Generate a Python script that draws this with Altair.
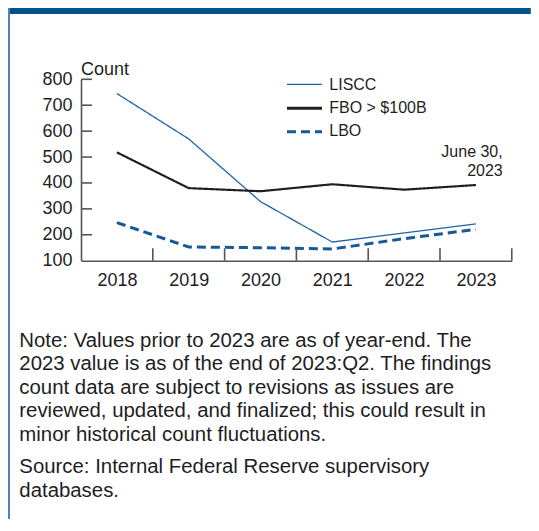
import altair as alt
import pandas as pd

years = [2018, 2019, 2020, 2021, 2022, 2023]
liscc = [745, 570, 328, 172, 207, 242]
fbo = [518, 380, 368, 395, 374, 392]
lbo = [247, 153, 150, 145, 185, 221]
series_names = ["LISCC", "FBO > $100B", "LBO"]
series_colors = ["#1f64a8", "#1e1e1e", "#15599a"]
series_widths = [1.3, 3, 3]
y_ticks = [100, 200, 300, 400, 500, 600, 700, 800]
x_ticks = [2018.5, 2019.5, 2020.5, 2021.5, 2022.5, 2023.5]
note_lines = [
    "Note: Values prior to 2023 are as of year-end. The",
    "2023 value is as of the end of 2023:Q2. The findings",
    "count data are subject to revisions as issues are",
    "reviewed, updated, and finalized; this could result in",
    "minor historical count fluctuations.",
]
source_lines = ["Source: Internal Federal Reserve supervisory", "databases."]
annotation_lines = ["June 30,", "2023"]

FONT = "Liberation Sans"
TXT = "#1e1e1e"
AX = "#555555"
W, H = 430.8, 181.4

rows = []
for name, vals in zip(series_names, [liscc, fbo, lbo]):
    for yr, v in zip(years, vals):
        rows.append({"year": yr, "value": v, "series": name})
df = pd.DataFrame(rows)

xscale = alt.Scale(domain=[2017.5, 2023.5], nice=False, zero=False)
yscale = alt.Scale(domain=[100, 800], nice=False, zero=False)
xaxis = alt.Axis(values=years, format="d", ticks=False, tickSize=0, grid=False,
                 labelFontSize=18, labelFont=FONT, labelColor=TXT, labelPadding=11,
                 domainColor=AX, domainWidth=1.6, title=None, labelFlush=False)
yaxis = alt.Axis(values=y_ticks, ticks=False, tickSize=0, grid=False,
                 labelFontSize=18, labelFont=FONT, labelColor=TXT, labelPadding=9,
                 domainColor=AX, domainWidth=1.6, title=None)

lines = alt.Chart(df).mark_line().encode(
    x=alt.X("year:Q", scale=xscale, axis=xaxis),
    y=alt.Y("value:Q", scale=yscale, axis=yaxis),
    color=alt.Color("series:N", scale=alt.Scale(domain=series_names, range=series_colors), legend=None),
    strokeWidth=alt.StrokeWidth("series:N", scale=alt.Scale(domain=series_names, range=series_widths), legend=None),
    strokeDash=alt.StrokeDash("series:N", scale=alt.Scale(domain=series_names, range=[[1, 0], [1, 0], [9, 5]]), legend=None),
)

ytick_layer = alt.Chart(pd.DataFrame({"v": y_ticks[1:]})).mark_rule(color=AX, strokeWidth=1.6).encode(
    y=alt.Y("v:Q", scale=yscale, axis=yaxis), x=alt.value(0), x2=alt.value(11))
xtick_layer = alt.Chart(pd.DataFrame({"v": x_ticks})).mark_rule(color=AX, strokeWidth=1.6).encode(
    x=alt.X("v:Q", scale=xscale, axis=xaxis), y=alt.value(H - 12.4), y2=alt.value(H))

# legend
leg_layers = []
leg_sym_y = [5, 29, 52.4]
leg_txt_y = [10.3, 33.6, 57]
for name, col, wd, sy, ty in zip(series_names, series_colors, series_widths, leg_sym_y, leg_txt_y):
    dash = [9, 5] if name == "LBO" else [1, 0]
    leg_layers.append(alt.Chart(pd.DataFrame({"s": [name]})).mark_rule(
        color=col, strokeWidth=wd, strokeDash=dash).encode(
        x=alt.value(206), x2=alt.value(241), y=alt.value(sy)))
    leg_layers.append(alt.Chart(pd.DataFrame({"s": [name]})).mark_text(
        align="left", baseline="alphabetic", font=FONT, fontSize=16, color=TXT).encode(
        text="s:N", x=alt.value(248.3), y=alt.value(ty)))

count_title = alt.Chart(pd.DataFrame({"t": ["Count"]})).mark_text(
    align="left", baseline="alphabetic", font=FONT, fontSize=18, color=TXT).encode(
    text="t:N", x=alt.value(0), y=alt.value(-4.5))

annot = alt.Chart(pd.DataFrame({"t": [0]})).mark_text(
    text=annotation_lines, align="right", baseline="alphabetic", font=FONT, fontSize=16,
    lineHeight=18.7, color=TXT).encode(x=alt.value(421.7), y=alt.value(78))

note = alt.Chart(pd.DataFrame({"t": [0]})).mark_text(
    text=note_lines, align="left", baseline="alphabetic", font=FONT, fontSize=20.4,
    lineHeight=23.4, color=TXT).encode(x=alt.value(-61.7), y=alt.value(267.7))
source = alt.Chart(pd.DataFrame({"t": [0]})).mark_text(
    text=source_lines, align="left", baseline="alphabetic", font=FONT, fontSize=20.4,
    lineHeight=23.4, color=TXT).encode(x=alt.value(-61.7), y=alt.value(394.2))

top_bar = alt.Chart(pd.DataFrame({"t": [0]})).mark_rect(color="#03538b").encode(
    x=alt.value(-73), x2=alt.value(W + 19), y=alt.value(-71.3), y2=alt.value(-65.3))
left_border = alt.Chart(pd.DataFrame({"t": [0]})).mark_rule(color="#5683b0", strokeWidth=2).encode(
    x=alt.value(-72), y=alt.value(-71.3), y2=alt.value(H + 260))

chart = alt.layer(
    top_bar, left_border, lines, ytick_layer, xtick_layer, count_title, annot, note, source, *leg_layers
).properties(
    width=W, height=H,
    autosize=alt.AutoSizeParams(type="none"),
    padding={"left": 73, "top": 71.3, "right": 19, "bottom": 258},
    background="white",
).configure_view(stroke=None)

chart.save("out.html", embed_options={"renderer": "svg", "actions": False})
